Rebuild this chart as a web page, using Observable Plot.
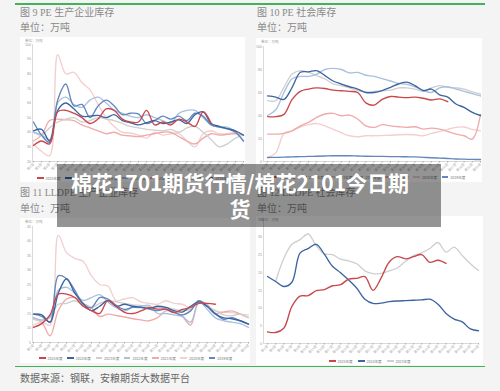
<!DOCTYPE html>
<html><head><meta charset="utf-8">
<script src="https://cdn.jsdelivr.net/npm/d3@7"></script>
<script src="https://cdn.jsdelivr.net/npm/@observablehq/plot@0.6"></script>
<style>
body{margin:0;background:#f4f4f4;}
#page{position:relative;width:500px;height:391px;overflow:hidden;background:#f4f4f4;font-family:"Liberation Serif","Noto Sans CJK SC",serif;}
.title{position:absolute;font-size:10px;color:#8a8a8a;line-height:12px;white-space:nowrap}
.panel{position:absolute;background:#fff}
.panel svg{display:block}
.green{position:absolute;left:15px;width:470px;height:1.6px;background:#43b35a}
.legend{position:absolute;display:flex;align-items:center;font-family:"Noto Sans CJK SC";font-size:3.6px;color:#777;height:6px;white-space:nowrap}
.item{display:flex;align-items:center}
.sw{width:6.5px;height:1.4px;margin-right:2px}
.unit{position:absolute;font-size:3.5px;color:#999;font-family:"Noto Sans CJK SC";white-space:nowrap}
#banner{position:absolute;left:57px;top:164px;width:384px;height:63px;background:rgba(0,0,0,0.42)}
#bannerText{position:absolute;left:57px;top:169px;width:366px;text-align:center;color:#fff;font-family:"Noto Sans CJK SC";font-weight:700;font-size:21px;line-height:26px;white-space:nowrap}
</style></head>
<body>
<div id="page">
  <div class="green" style="top:3px"></div>
  <div class="title" style="left:20px;top:7px">图 9 PE 生产企业库存</div>
  <div class="title" style="left:20px;top:22px">单位：万吨</div>
  <div class="title" style="left:257px;top:7px">图 10 PE 社会库存</div>
  <div class="title" style="left:257px;top:22px">单位：万吨</div>
  <div class="title" style="left:20px;top:187px">图 11 LLDPE 生产企业库存</div>
  <div class="title" style="left:20px;top:203px">单位：万吨</div>
  <div class="title" style="left:257px;top:187px">图 12 LLDPE 社会库存</div>
  <div class="title" style="left:257px;top:203px">单位：万吨</div>
  <div id="p1" class="panel" style="left:20px;top:37px;width:225px;height:145px"></div>
  <div id="p2" class="panel" style="left:256px;top:38px;width:226px;height:144px"></div>
  <div id="p3" class="panel" style="left:20px;top:218px;width:230px;height:145px"></div>
  <div id="p4" class="panel" style="left:256px;top:216px;width:227px;height:149px"></div>
  <div class="green" style="top:365.5px"></div>
  <div class="title" style="left:20px;top:373px;color:#666">数据来源：钢联，安粮期货大数据平台</div>
  <div id="banner"></div>
  <div id="bannerText">棉花1701期货行情/棉花2101今日期<br>货</div>
</div>
<script>
// ---- tick labels ----
const xLabels = ["第1周","第3周","第5周","第7周","第9周","第11周","第13周","第15周","第17周","第19周","第21周","第23周","第25周","第27周","第29周","第31周","第33周","第35周","第37周","第39周","第41周","第43周","第45周","第47周","第49周","第51周","第53周"];
const years = ["2025年度","2024年度","2023年度","2022年度","2021年度","2020年度","2019年度"];
const yearColors = ["#c9474a","#3b65a0","#cfcfcf","#a9c0de","#efaaaa","#f3cfcf","#6386bb"];

// ---- 图9 PE 生产企业库存 ----
const pe1_2025 = [31,34,32,54,55,53,50,46,49,56,55,49,47,47,55,45,47,45,49,47,44,54,46];
const pe1_2024 = [41,42,34,55,60,56,51,51,51.5,50,52,48,46.5,45,46.5,48,46,47,48.5,46,52,54,46,44,42.5,41,38];
const pe1_2023 = [40,38,43,47,49,50,47,48,50,49,48,46,44,43,42,41.5,41,42,40,43,44,40,35,30,32,36,38];
const pe1_2022 = [40,38,35,60,64,59,57,62,64,60,55,53,51,50,52,50,48,46,53,55,55,50,45,43.5,43.5,40,34];
const pe1_2021 = [34,38,48,49,48.5,48,45,43,41,39,40,38,37.5,37,38,39,40,40,37,34,32,36,39,38,38.5,39,38];
const pe1_2020 = [32,27,24,93,80,81,74,69,59,50,44,40,39.5,38,36,40,38,39,39,34,30,39,41,39,39,40,38];
const pe1_2019 = [47,38,33,62,73,58,59,50,58,62,58,52,53,52.5,46,48,51,49,51,48,53,51,45,43.5,42.3,40,34];

// ---- 图10 PE 社会库存 ----
const pe2_2025 = [39,39,41,54,61,63,64,63.5,62,61.5,61,60,51,49,54,56.5,56,55.5,56,55,53.5,54.5,52];
const pe2_2024 = [57,56,54,64.5,77.6,78,79,74.7,70,67.4,65,63,60,60,61.6,64.5,67.4,69,66,61.6,63,58,56,50,47,42.7,40];
const pe2_2023 = [53,53,64.5,76,79,77.5,74.7,71.8,67.4,66,64,61.6,60.5,61,61.6,62,64,64,63,61,64,66,64.5,64,63,60.5,58.7];
const pe2_2022 = [40,45,60,72,74,74,76,80,81,80,77,77.5,75,74,72,70,68,67,65,62,60,64,65,63,61,59,57];
const pe2_2021 = [23.8,23.8,24.4,26.7,31,34,38.4,41.3,41.9,39.8,40.4,37,31,29.7,32,31,30.2,29.7,30.2,28.2,29,28.2,26,23.8,22.4,19.5,41];
const pe2_2020 = [3.5,7.5,24.4,26.7,30,32,33,31,28,25,22.4,21.5,22.4,22.4,22.6,22.8,23.3,23.5,23.3,22.4,24.4,26,28,29.7,30,28,26.7];
const pe2_2019 = [3.5,3.6,3.8,4,4.2,4.4,4.6,4.8,5,5,5,4.8,4.6,4.5,4.4,4.3,4.2,4.1,4,3.6,3.3,3,2.6,2.2,2,1.8,1.7];

// ---- 图11 LLDPE 生产企业库存 ----
const ll1_2025 = [10.2,11.5,14.5,21.7,21.7,20.5,17.5,16,15,19.5,17.5,15.4,15,15.9,17,16.5,16.5,15.3,16.4,17.1,18.5,18.5,18.2];
const ll1_2024 = [14.8,14.5,12,22,27,22,18.5,16,17.5,19.5,17.5,18.2,17.5,17.2,16.8,17.5,17.1,16,15.5,17.5,19,17.4,14.8,13.5,13.2,12.5,11.3];
const ll1_2023 = [13,12.5,14,18.2,18.5,19.4,18,17,18.5,19.4,19,18.5,18,17.8,17.3,17.1,17.1,16.5,16,16.5,19.4,17.6,16,14.5,14.2,14.8,13.6];
const ll1_2022 = [13.6,12.8,13.6,23,24,22,19.5,20.5,21.5,19,17,15.9,17.1,17.5,17.8,15,15,14.5,14,12,19,16.5,13.5,12.5,12,11.5,10.2];
const ll1_2021 = [13.6,12,7.3,16,20,20.5,18.5,17,14,14.8,14.3,13.8,13.2,12.8,12.5,13.6,15.9,15.5,14,11,19,18.2,15,15.5,15.9,14.8,13.6];
const ll1_2020 = [11,12,11,42,36,34,33,28,25,24.5,19.4,20,20.5,19,18.5,18.2,19.4,18.5,18.2,17.1,19.4,17.6,15.9,15.5,15.3,14.8,14.5];
const ll1_2019 = [14.8,14,12,28,27,23,18.2,17,20.5,20,17.8,16.4,17.1,17,16.5,16,16.5,15.4,14.5,15.9,19.4,17.6,15,13,13.6,12.5,11.3];

// ---- 图12 LLDPE 社会库存 ----
const ll2_2025 = [3.3,3.1,4.3,10.5,13.4,13.5,14.9,15.2,16.3,16.6,18.2,18.4,18.9,15,18.5,23,24.5,23.9,24.5,25.1,22.9,23.5,22.6];
const ll2_2024 = [18.9,17.5,16.1,17.3,25.5,26.8,28,25.2,21.8,20,17.9,15.6,12.5,11.3,11.4,11.8,12,12.1,12.2,12.3,12.5,11.1,8.5,6.9,6.1,4.1,3.6];
const ll2_2023 = [null,17.5,24,28,29.3,30.9,27.6,25.3,25.1,23.8,23.3,22.5,20.5,19.7,19.8,20.5,21.3,23.2,24.8,25.6,26.8,28.5,25.8,27.2,24.8,22.5,20.6];

const drawOrder = ["2020年度","2021年度","2023年度","2022年度","2019年度","2024年度","2025年度"];

function build(seriesMap) {
  const rows = [];
  for (const name of drawOrder) {
    const vals = seriesMap[name];
    if (!vals) continue;
    vals.forEach((v, i) => { if (v != null) rows.push({i, v, name}); });
  }
  return rows;
}

function chart(sel, opt, seriesMap) {
  const data = build(seriesMap);
  const names = years.filter(y => seriesMap[y]);
  const el = Plot.plot({
    width: opt.w, height: opt.h,
    marginLeft: opt.ml, marginRight: opt.mr, marginTop: opt.mt, marginBottom: opt.mb,
    style: {fontFamily: "Liberation Sans, Noto Sans CJK SC", background: "#fff", overflow: "visible"},
    x: {type: "linear", domain: opt.xdom},
    y: {domain: opt.ydom},
    color: {domain: years, range: yearColors},
    marks: [
      Plot.ruleY([opt.ydom[0]], {stroke: "#c9c9c9", strokeWidth: 0.7}),
      Plot.ruleX([opt.xdom[0]], {stroke: "#c9c9c9", strokeWidth: 0.7}),
      Plot.axisY({ticks: opt.yticks, tickSize: 0, tickPadding: 1.5, fontSize: 3.6, color: "#999", label: null}),
      Plot.axisX({ticks: d3.range(xLabels.length), tickFormat: i => xLabels[i], tickRotate: -45, fontSize: 3.3, tickSize: 1.5, tickPadding: 0.8, color: "#aaa", label: null}),
      Plot.line(data, {x: "i", y: "v", z: "name", stroke: "name", curve: "catmull-rom", strokeWidth: 1.35})
    ]
  });
  const panel = document.querySelector(sel);
  panel.appendChild(el);
  const unit = document.createElement("div");
  unit.className = "unit";
  unit.style.left = "5px"; unit.style.top = "1px";
  unit.textContent = "单位：万吨";
  panel.appendChild(unit);
  // legend
  const lg = document.createElement("div");
  lg.className = "legend";
  lg.style.left = opt.lx + "px"; lg.style.top = opt.ly + "px";
  for (const n of names) {
    const it = document.createElement("div");
    it.className = "item";
    it.style.width = opt.lw + "px";
    const sw = document.createElement("span");
    sw.className = "sw";
    sw.style.background = yearColors[years.indexOf(n)];
    it.appendChild(sw);
    const t = document.createElement("span");
    t.textContent = n;
    it.appendChild(t);
    lg.appendChild(it);
  }
  document.getElementById("page").insertBefore(lg, document.getElementById("banner"));
}

chart("#p1", {w:225,h:145,ml:12,mr:2,mt:7,mb:21,xdom:[-0.12,26],ydom:[20,100],yticks:[20,30,40,50,60,70,80,90,100],lx:37,ly:175,lw:28.3},
  {"2025年度":pe1_2025,"2024年度":pe1_2024,"2023年度":pe1_2023,"2022年度":pe1_2022,"2021年度":pe1_2021,"2020年度":pe1_2020,"2019年度":pe1_2019});
chart("#p2", {w:226,h:144,ml:7,mr:2,mt:8,mb:21,xdom:[-0.5,26],ydom:[0,100],yticks:[0,20,40,60,80,100],lx:272,ly:174,lw:28.3},
  {"2025年度":pe2_2025,"2024年度":pe2_2024,"2023年度":pe2_2023,"2022年度":pe2_2022,"2021年度":pe2_2021,"2020年度":pe2_2020,"2019年度":pe2_2019});
chart("#p3", {w:230,h:145,ml:12,mr:2,mt:8,mb:21,xdom:[-0.12,26],ydom:[5,45],yticks:[5,10,15,20,25,30,35,40,45],lx:39,ly:355,lw:28.3},
  {"2025年度":ll1_2025,"2024年度":ll1_2024,"2023年度":ll1_2023,"2022年度":ll1_2022,"2021年度":ll1_2021,"2020年度":ll1_2020,"2019年度":ll1_2019});
chart("#p4", {w:227,h:149,ml:7,mr:5,mt:3,mb:22,xdom:[-0.5,26],ydom:[0,35],yticks:[0,5,10,15,20,25,30,35],lx:329,ly:358,lw:29},
  {"2025年度":ll2_2025,"2024年度":ll2_2024,"2023年度":ll2_2023});
</script>
</body></html>
